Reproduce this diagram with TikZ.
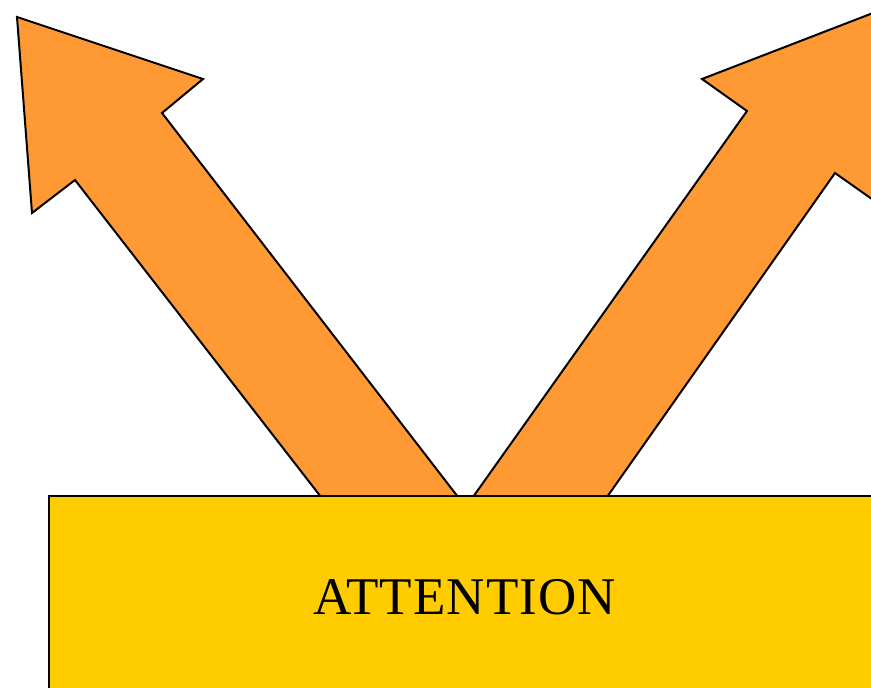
\documentclass[tikz,border=0pt]{standalone}
\usepackage{fontspec}
\setmainfont{Liberation Serif}
\definecolor{arroworange}{RGB}{255,153,51}
\definecolor{boxyellow}{RGB}{255,204,0}
\begin{document}
\begin{tikzpicture}[x=1pt,y=-1pt,
  bigarrow/.style={fill=arroworange,draw=black,line width=2pt,line join=miter},
  panel/.style={fill=boxyellow,draw=black,line width=2pt}]
\useasboundingbox (0,0) rectangle (871,688);
\begin{scope}
\clip (0,0) rectangle (871,688);
% left arrow
\draw[bigarrow] (321,497) -- (75,180) -- (32,213) -- (17,17) -- (203,79) -- (162,113) -- (458,497) -- cycle;
% right arrow (tip beyond the frame)
\draw[bigarrow] (473,497) -- (747,111) -- (702,79) -- (930,-9) -- (930,240) -- (835,173) -- (607,497) -- cycle;
% box
\draw[panel] (49,496) rectangle (900,720);
\end{scope}
\node[font=\fontsize{53}{60}\selectfont\addfontfeature{LetterSpace=2}, anchor=base, inner sep=0pt] (label) at (464.5,614) {ATTENTION};
\end{tikzpicture}
\end{document}
